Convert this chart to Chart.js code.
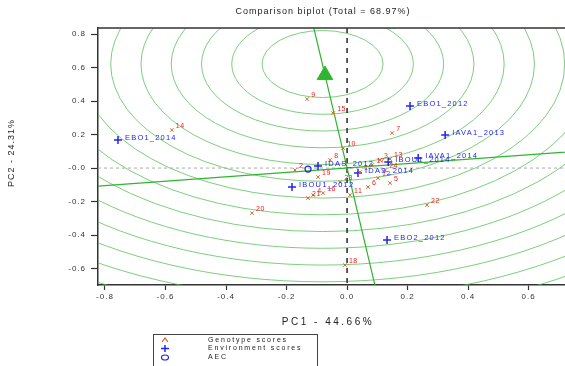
<!DOCTYPE html>
<html>
<head>
<meta charset="utf-8">
<script src="https://cdn.jsdelivr.net/npm/chart.js@4.4.1/dist/chart.umd.min.js"></script>
<style>
  html, body { margin: 0; padding: 0; background: #fff; }
</style>
</head>
<body>
<canvas id="biplot" width="565" height="366"></canvas>
<script>
// genotype scores
const genoNames = ["9", "15", "14", "7", "10", "13", "5", "12", "21", "20", "22", "18",
  "8", "2", "3", "6", "11", "4", "16", "1", "17", "19", "23", "24"];
const genoPC1 = [-0.132, -0.046, -0.579, 0.149, -0.013, 0.142, 0.142, 0.102, -0.129, -0.314, 0.264, -0.007,
  -0.056, -0.172, 0.109, 0.069, 0.010, -0.112, -0.079, 0.043, 0.083, -0.096, -0.023, 0.126];
const genoPC2 = [0.412, 0.328, 0.227, 0.209, 0.119, 0.054, -0.090, -0.060, -0.179, -0.269, -0.221, -0.579,
  0.048, -0.012, 0.048, -0.113, -0.161, -0.161, -0.149, -0.024, 0.018, -0.054, -0.084, -0.012];

// environment scores
const envNames = ["EBO1_2014", "EBO1_2012", "IAVA1_2013", "IAVA1_2014", "IBOU1_2014",
  "IBOU1_2012", "EBO2_2012", "IDAS_2012", "IDAS_2014"];
const envPC1 = [-0.757, 0.208, 0.324, 0.235, 0.136, -0.182, 0.132, -0.096, 0.036];
const envPC2 = [0.167, 0.370, 0.197, 0.060, 0.036, -0.113, -0.430, 0.012, -0.030];

// average environment coordinate, arrow and concentric circles
const aecPoint = [-0.129, -0.006];
const arrowPoint = [-0.073, 0.555];
const ringCenter = [-0.081, 0.621];
const ringRadii = [0.2, 0.3, 0.4, 0.5, 0.6, 0.7, 0.8, 0.9, 1.0, 1.1, 1.2, 1.3, 1.4, 1.5];

const xTicks = [-0.8, -0.6, -0.4, -0.2, 0, 0.2, 0.4, 0.6];
const xTickLabels = ["-0.8", "-0.6", "-0.4", "-0.2", "0.0", "0.2", "0.4", "0.6"];
const yTicks = [-0.6, -0.4, -0.2, 0, 0.2, 0.4, 0.6, 0.8];
const yTickLabels = ["-0.6", "-0.4", "-0.2", "-0.0", "0.2", "0.4", "0.6", "0.8"];

const FONT = '"Liberation Sans", Arial, sans-serif';
const GREEN = "#2fb52f";
const BLUE = "#2323f0";

const decor = {
  id: "decor",
  beforeDraw(chart) {
    chart.ctx.letterSpacing = "1px";
  },
  beforeDatasetsDraw(chart) {
    const { ctx, chartArea: a } = chart;
    const xs = chart.scales.x, ys = chart.scales.y;
    const px = (v) => xs.getPixelForValue(v);
    const py = (v) => ys.getPixelForValue(v);
    ctx.save();
    ctx.beginPath();
    ctx.rect(a.left, a.top, a.right - a.left, a.bottom - a.top);
    ctx.clip();

    // concentric circles
    const cx = px(ringCenter[0]), cy = py(ringCenter[1]);
    ctx.strokeStyle = "rgba(80,190,80,0.75)";
    ctx.lineWidth = 1;
    ringRadii.forEach((r) => {
      const rx = px(ringCenter[0] + r) - cx;
      const ry = cy - py(ringCenter[1] + r);
      ctx.beginPath();
      ctx.ellipse(cx, cy, rx, ry, 0, 0, Math.PI * 2);
      ctx.stroke();
    });

    // zero lines
    ctx.setLineDash([3, 3]);
    ctx.strokeStyle = "#aaa";
    ctx.beginPath();
    ctx.moveTo(a.left, py(0));
    ctx.lineTo(a.right, py(0));
    ctx.stroke();
    ctx.setLineDash([5, 5]);
    ctx.strokeStyle = "#333";
    ctx.lineWidth = 1.6;
    ctx.beginPath();
    ctx.moveTo(px(0), a.top);
    ctx.lineTo(px(0), a.bottom);
    ctx.stroke();
    ctx.setLineDash([]);

    // AEC abscissa and ordinate through the origin
    const [dx, dy] = arrowPoint;
    ctx.strokeStyle = GREEN;
    ctx.lineWidth = 1.2;
    ctx.beginPath();
    ctx.moveTo(px(-5 * dx), py(-5 * dy));
    ctx.lineTo(px(5 * dx), py(5 * dy));
    ctx.moveTo(px(-5 * dy), py(5 * dx));
    ctx.lineTo(px(5 * dy), py(-5 * dx));
    ctx.stroke();
    ctx.restore();
  },
  afterDatasetsDraw(chart) {
    const ctx = chart.ctx;
    ctx.save();
    ctx.letterSpacing = "0.5px";
    ctx.textBaseline = "middle";
    ctx.fillStyle = "#f02020";
    ctx.font = "7px " + FONT;
    chart.getDatasetMeta(0).data.forEach((pt, i) => {
      ctx.fillText(genoNames[i], pt.x + 4, pt.y - 4);
    });
    ctx.fillStyle = BLUE;
    ctx.font = "7.5px " + FONT;
    ctx.letterSpacing = "1.2px";
    chart.getDatasetMeta(1).data.forEach((pt, i) => {
      ctx.fillText(envNames[i], pt.x + 7, pt.y - 2);
    });
    ctx.restore();
  },
  afterDraw(chart) {
    const { ctx, chartArea: a } = chart;
    ctx.save();
    // top frame line
    ctx.strokeStyle = "#333";
    ctx.lineWidth = 1.5;
    ctx.beginPath();
    ctx.moveTo(a.left, a.top);
    ctx.lineTo(a.right, a.top);
    ctx.stroke();

    ctx.fillStyle = "#222";
    ctx.textAlign = "center";
    ctx.textBaseline = "middle";
    ctx.font = "9px " + FONT;
    ctx.letterSpacing = "1px";
    ctx.fillText("Comparison biplot (Total = 68.97%)", 323, 12);

    ctx.font = "10px " + FONT;
    ctx.letterSpacing = "2.5px";
    ctx.fillText("PC1 - 44.66%", 328, 322);

    ctx.save();
    ctx.translate(12, 153);
    ctx.rotate(-Math.PI / 2);
    ctx.font = "9px " + FONT;
    ctx.letterSpacing = "1px";
    ctx.fillText("PC2 - 24.31%", 0, 0);
    ctx.restore();

    // legend
    ctx.strokeStyle = "#444";
    ctx.lineWidth = 1;
    ctx.strokeRect(153.5, 334.5, 164, 40);
    ctx.textAlign = "left";
    ctx.font = "7px " + FONT;
    ctx.letterSpacing = "1.8px";
    ctx.fillText("Genotype scores", 208, 340);
    ctx.fillText("Environment scores", 208, 348.5);
    ctx.fillText("AEC", 208, 357);
    ctx.lineWidth = 1.2;
    ctx.strokeStyle = "#e0502a";
    ctx.beginPath();
    ctx.moveTo(162, 342); ctx.lineTo(165, 338); ctx.lineTo(168, 342);
    ctx.stroke();
    ctx.strokeStyle = BLUE;
    ctx.lineWidth = 1.5;
    ctx.beginPath();
    ctx.moveTo(161, 348.5); ctx.lineTo(169, 348.5);
    ctx.moveTo(165, 345); ctx.lineTo(165, 352);
    ctx.stroke();
    ctx.lineWidth = 1.2;
    ctx.beginPath();
    ctx.ellipse(165, 357.5, 3.5, 2.5, 0, 0, Math.PI * 2);
    ctx.stroke();
    ctx.restore();
  },
};

new Chart(document.getElementById("biplot"), {
  type: "scatter",
  data: {
    datasets: [
      {
        label: "Genotype scores",
        data: genoPC1.map((x, i) => ({ x, y: genoPC2[i] })),
        pointStyle: "crossRot",
        radius: 2.5,
        borderColor: "#d86a28",
        borderWidth: 1,
      },
      {
        label: "Environment scores",
        data: envPC1.map((x, i) => ({ x, y: envPC2[i] })),
        pointStyle: "cross",
        radius: 4,
        borderColor: BLUE,
        borderWidth: 1.5,
      },
      {
        label: "AEC",
        data: [{ x: aecPoint[0], y: aecPoint[1] }],
        pointStyle: "circle",
        radius: 3,
        borderColor: BLUE,
        backgroundColor: "rgba(0,0,0,0)",
        borderWidth: 1.2,
      },
      {
        label: "arrow",
        data: [{ x: arrowPoint[0], y: arrowPoint[1] }],
        pointStyle: "triangle",
        radius: 9,
        borderColor: GREEN,
        backgroundColor: GREEN,
        borderWidth: 1,
      },
    ],
  },
  options: {
    responsive: false,
    animation: false,
    layout: { autoPadding: false, padding: { top: 28, left: 0, right: 0, bottom: 0 } },
    plugins: {
      legend: { display: false },
      title: { display: false },
      tooltip: { enabled: false },
    },
    scales: {
      x: {
        type: "linear",
        min: -0.823,
        max: 0.72,
        afterBuildTicks: (s) => {
          s.ticks = xTicks.map((v) => ({ value: v }));
        },
        afterFit: (s) => {
          s.height = 81;
        },
        ticks: {
          callback: (v, i) => xTickLabels[i],
          font: { family: FONT, size: 8 },
          color: "#333",
          padding: 2,
          maxRotation: 0,
          autoSkip: false,
        },
        grid: { drawOnChartArea: false, tickLength: 5, tickColor: "#333", tickWidth: 1.2 },
        border: { color: "#333", width: 1.5 },
      },
      y: {
        type: "linear",
        min: -0.698,
        max: 0.836,
        afterBuildTicks: (s) => {
          s.ticks = yTicks.map((v) => ({ value: v }));
        },
        afterFit: (s) => {
          s.width = 98;
        },
        ticks: {
          callback: (v, i) => yTickLabels[i],
          font: { family: FONT, size: 8 },
          color: "#333",
          padding: 5,
          autoSkip: false,
        },
        grid: { drawOnChartArea: false, tickLength: 7, tickColor: "#333", tickWidth: 1.2 },
        border: { color: "#333", width: 1.5 },
      },
    },
  },
  plugins: [decor],
});
</script>
</body>
</html>
